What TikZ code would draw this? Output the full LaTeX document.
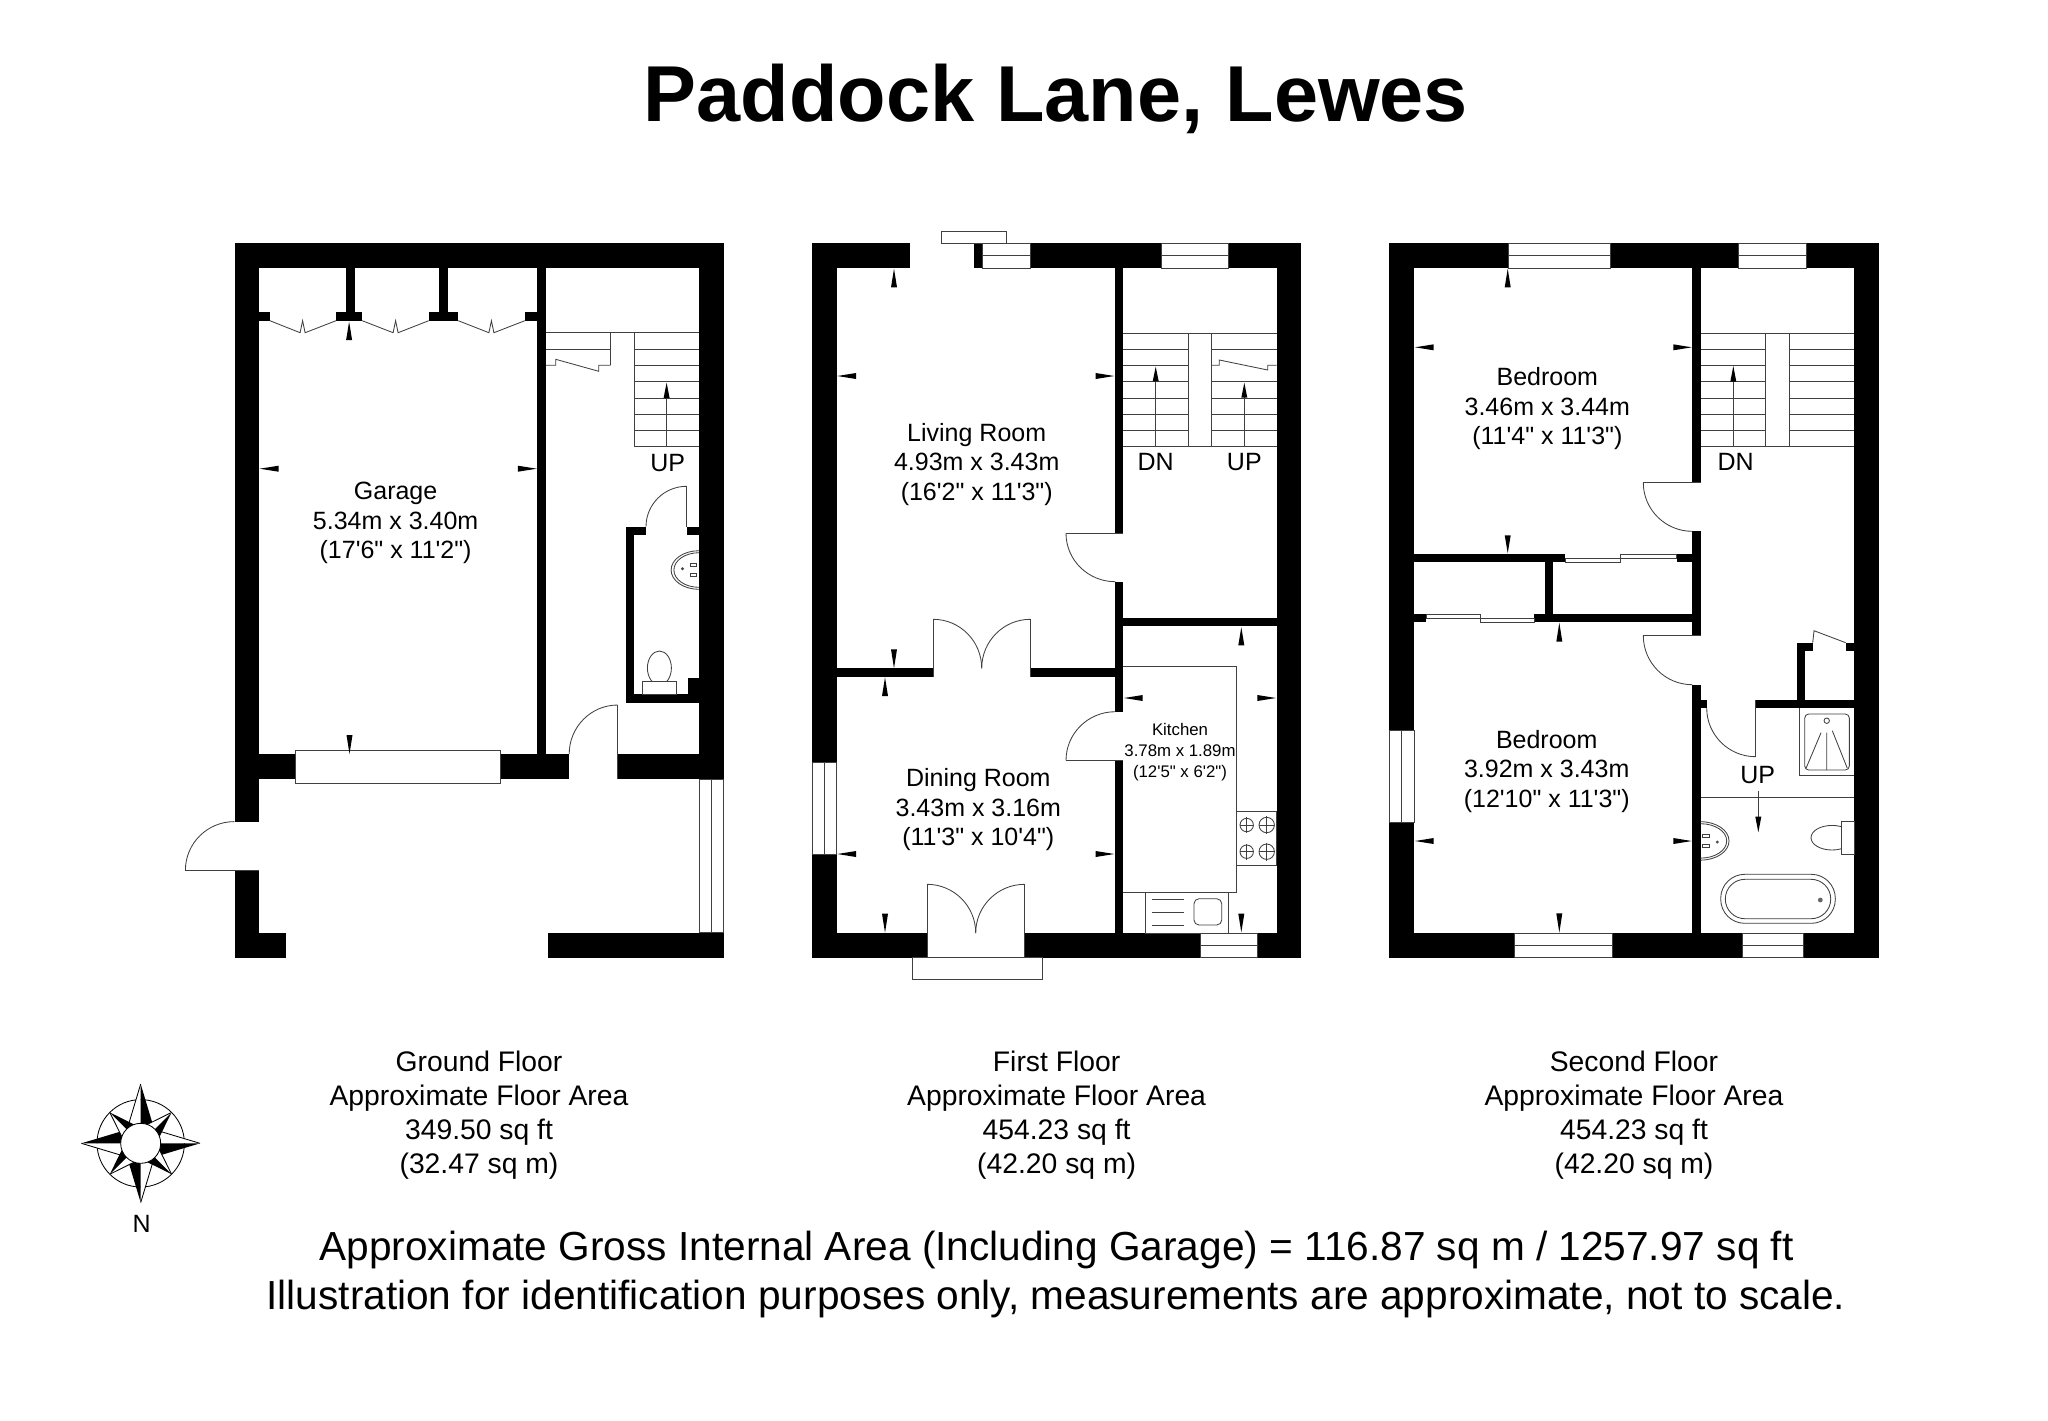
\documentclass[tikz,border=0pt]{standalone}
\usepackage{fontspec}
\newfontfamily\lib{Liberation Sans}
\newcommand{\wl}[4]{\fill[black] (#1,#2) rectangle (#3,#4);}
\newcommand{\win}[4]{\draw[thin line,fill=white] (#1,#2) rectangle (#3,#4);}
\newcommand{\hr}[3]{\draw[thin line] (#2,#1) -- (#3,#1);}
\newcommand{\vr}[3]{\draw[thin line] (#1,#2) -- (#1,#3);}
\newcommand{\vtri}[3]{\fill[black] (#1,#2) -- (#1-3,#3) -- (#1+3,#3) -- cycle;}
\newcommand{\htri}[3]{\fill[black] (#2,#1) -- (#3,#1-3) -- (#3,#1+3) -- cycle;}
\newcommand{\qarc}[4]{\draw[thin line] (#1,{#2+#4}) .. controls ({#1+.5523*#3},{#2+#4}) and ({#1+#3},{#2+.5523*#4}) .. ({#1+#3},#2);}
\newcommand{\zz}[3]{\draw[thin line] (#1,320.7) -- ({#2-2.5},332.7) -- (#2,320.7) -- ({#2+2.5},332.7) -- (#3,320.7);}
\begin{document}
\begin{tikzpicture}[x=0.5pt,y=-0.5pt,
  thin line/.style={line width=.42pt,draw=black!75},
  lbl/.style={font=\fontsize{12.5}{14.7}\selectfont\lib,align=center,inner sep=0pt},
  kit/.style={font=\fontsize{8.4}{10.4}\selectfont\lib,align=center,inner sep=0pt},
  capt/.style={font=\fontsize{14.15}{17}\selectfont\lib,align=center,inner sep=0pt},
  big/.style={font=\fontsize{20.3}{25}\selectfont\lib,inner sep=0pt}]
\useasboundingbox[fill=white] (0,0) rectangle (2048,1420);

% ---------- title
\node[inner sep=0pt,font=\fontsize{39.65}{44}\selectfont\lib\bfseries] (title) at (1056,99) {Paddock Lane, Lewes};

% ---------- ground floor
\wl{234.5}{243.3}{723.8}{268}
\wl{234.5}{243.3}{259.1}{821.7}
\wl{234.5}{870.3}{259.1}{957.7}
\wl{234.5}{932.7}{286.3}{957.7}
\wl{699}{243.3}{723.8}{779}
\wl{537}{268}{546}{754}
\wl{346.4}{268}{354.6}{311.7}
\wl{439.4}{268}{448}{311.7}
\wl{258.9}{311.7}{269.9}{320.7}
\wl{336}{311.7}{362.2}{320.7}
\wl{428.7}{311.7}{458.3}{320.7}
\wl{524.8}{311.7}{537}{320.7}
\zz{269.9}{302.6}{336}
\zz{362.2}{395.6}{428.7}
\zz{458.3}{491.4}{524.8}
\vtri{349.1}{321.7}{340}
\htri{468.7}{259.6}{278.5}
\htri{468.7}{536.8}{517.9}
% garage front wall
\wl{234.5}{754}{569.2}{779}
\wl{617.7}{754}{723.8}{779}
\win{295.7}{750.3}{500.3}{783}
\vtri{349.5}{754}{735}
\wl{548.1}{932.7}{723.8}{957.7}
% side window
\draw[thin line,fill=white] (699.3,779) rectangle (723.4,932.7);
\vr{711.4}{779}{932.7}
% doors
\vr{617.7}{705}{779}
\qarc{617.7}{754}{-48.5}{-49}
\hr{870.3}{185.4}{259.1}
\qarc{234.3}{870.3}{-48.9}{-48.7}
% stairs
\hr{332.7}{546}{699}
\vr{610.5}{332.7}{365.3}
\hr{349}{546}{610.5}
\draw[thin line] (546,365.3) -- (555.7,365.3) -- (555.7,359.3) -- (598.8,371.3) -- (598.8,365.3) -- (610.5,365.3);
\vr{634.3}{332.7}{446.7}
\foreach \yy in {349,365.3,381.7,398,414.3,430.7,446.7} {\hr{\yy}{634.3}{699}}
\vr{666.6}{395}{446.7}
\vtri{666.6}{382.7}{398}
% cloakroom
\wl{626}{526.7}{634.3}{702.7}
\wl{626}{526.7}{646}{535.3}
\wl{686.6}{526.7}{699}{535.3}
\wl{626}{694}{699}{702.7}
\wl{687.6}{678.3}{699}{694}
\vr{686.6}{486.3}{526.7}
\qarc{686.6}{526.7}{-40.6}{-40.4}
\qarc{699}{570}{-27.9}{-19.3}
\qarc{699}{570}{-27.9}{19.3}
\qarc{699}{570}{-25.1}{-17.3}
\qarc{699}{570}{-25.1}{17.3}
\draw[thin line,fill=white] (690,563.3) rectangle (696.9,566.7);
\draw[thin line,fill=white] (690,573.3) rectangle (696.9,576.7);
\draw[thin line] (682.5,568.7) circle (1);
\draw[thin line] (659.4,668) ellipse (12 and 17);
\draw[thin line,fill=white] (642.5,681) rectangle (676.3,694);
\node[lbl] (up1) at (667.7,462.8) {UP};
\node[lbl] (garage) at (395.6,523) {Garage\\5.34m x 3.40m\\(17'6" x 11'2")};

% ---------- first floor
\wl{812}{243.3}{910}{268}
\wl{974}{243.3}{982}{268}
\wl{1030.7}{243.3}{1161}{268}
\wl{1228.3}{243.3}{1301.3}{268}
\wl{812}{243.3}{836.7}{762.3}
\wl{812}{854}{836.7}{957.7}
\wl{1276.7}{243.3}{1301.3}{957.7}
\wl{812}{933}{927}{957.7}
\wl{1024.7}{933}{1200}{957.7}
\wl{1257.3}{933}{1301.3}{957.7}
\wl{1115.3}{268}{1123.3}{533.3}
\wl{1115.3}{581.7}{1123.3}{711.7}
\wl{1115.3}{760.3}{1123.3}{933}
\wl{1123.3}{617.7}{1276.7}{626.3}
\wl{836.7}{668.3}{933.3}{676.7}
\wl{1030.3}{668.3}{1115.3}{676.7}
% windows
\win{982}{243.3}{1030.7}{268}
\hr{255.7}{982}{1030.7}
\win{1161}{243.3}{1228.3}{268}
\hr{255.7}{1161}{1228.3}
\win{941.7}{231.3}{1006.3}{243.3}
\win{812}{762.3}{836.7}{854}
\vr{824.7}{762.3}{854}
\win{1200}{933}{1257.3}{957.7}
\hr{945.3}{1200}{1257.3}
\win{912.3}{957.7}{1042.3}{979.3}
% doors
\hr{533.3}{1066}{1123.3}
\qarc{1115.3}{533.3}{-49.3}{48.4}
\hr{760.3}{1066}{1123.3}
\qarc{1115.3}{760.3}{-49.3}{-48.6}
\vr{933.3}{619.3}{676.7}
\vr{1030.3}{619.3}{676.7}
\qarc{933.3}{668.3}{48.4}{-49}
\qarc{1030.3}{668.3}{-48.6}{-49}
\vr{927}{884.3}{957.7}
\vr{1024.7}{884.3}{957.7}
\qarc{927}{933}{48.7}{-48.7}
\qarc{1024.7}{933}{-49}{-48.7}
% stairs
\hr{333}{1123.3}{1276.7}
\hr{446.7}{1123.3}{1276.7}
\vr{1188.3}{333}{446.7}
\vr{1211.7}{333}{446.7}
\foreach \yy in {349.3,365.3,381.3,398,414,430.3} {\hr{\yy}{1123.3}{1188.3}}
\foreach \yy in {349.3,381.3,398,414,430.3} {\hr{\yy}{1211.7}{1276.7}}
\draw[thin line] (1211.7,365.3) -- (1219.3,365.3) -- (1219.3,360) -- (1267.7,370) -- (1267.7,365.3) -- (1276.7,365.3);
\vr{1155.7}{380}{446.7}
\vtri{1155.7}{366.7}{381.3}
\vr{1244.3}{396}{446.7}
\vtri{1244.3}{382.7}{397.7}
% kitchen units
\draw[thin line] (1123.3,666.3) -- (1236.3,666.3) -- (1236.3,892.3) -- (1123.3,892.3);
\draw[thin line] (1236.3,811) rectangle (1276.7,865.3);
\draw[thin line] (1145.7,892.3) rectangle (1228.3,933);
\foreach \cx/\cy/\rr in {1246.7/825/6.7,1266.7/825/7.7,1246.7/851.7/6.7,1266.7/851.7/7.7} {
  \draw[thin line] (\cx,\cy) circle (\rr);
  \draw[thin line] (\cx-\rr,\cy) -- (\cx+\rr,\cy) (\cx,\cy-\rr-1.5) -- (\cx,\cy+\rr+1.5);
}
\foreach \yy in {899.3,912.3,925.7} {\hr{\yy}{1151.7}{1184}}
\draw[thin line,rounded corners=2.5pt] (1194,898.7) rectangle (1221.7,925);
% dimension arrows
\vtri{894}{268.7}{287.3}
\htri{376}{837.3}{856}
\htri{376}{1114.3}{1095.7}
\vtri{894}{668.3}{649.3}
\vtri{885}{677.3}{696}
\vtri{885}{932.7}{913.7}
\htri{854}{837.3}{856}
\htri{854}{1114.3}{1095.7}
\vtri{1241.3}{627.3}{645.3}
\vtri{1241.3}{932.3}{913.7}
\htri{698}{1124}{1142.7}
\htri{698}{1276}{1257.3}
\node[lbl] (dn1) at (1155.7,462.3) {DN};
\node[lbl] (up2) at (1244.3,462.3) {UP};
\node[lbl] (living) at (976.7,464.3) {Living Room\\4.93m x 3.43m\\(16'2" x 11'3")};
\node[lbl] (dining) at (978.3,809.6) {Dining Room\\3.43m x 3.16m\\(11'3" x 10'4")};
\node[kit] (kitchen) at (1180,752) {Kitchen\\3.78m x 1.89m\\(12'5" x 6'2")};

% ---------- second floor
\wl{1389.3}{243.3}{1508}{268}
\wl{1610.3}{243.3}{1738.3}{268}
\wl{1806}{243.3}{1879.3}{268}
\wl{1389.3}{243.3}{1414.3}{730}
\wl{1389.3}{822}{1414.3}{957.7}
\wl{1854}{243.3}{1879.3}{957.7}
\wl{1389.3}{933}{1514}{957.7}
\wl{1612.7}{933}{1742.7}{957.7}
\wl{1803.7}{933}{1879.3}{957.7}
\wl{1692.3}{268}{1700.7}{482.7}
\wl{1692.3}{531.3}{1700.7}{635.7}
\wl{1692.3}{684.7}{1700.7}{933}
\wl{1414.3}{554}{1565}{562.3}
\wl{1676.7}{554}{1692.3}{562.3}
\wl{1544.7}{562.3}{1553}{614}
\wl{1414.3}{614}{1426.3}{622.3}
\wl{1534.3}{614}{1692.3}{622.3}
\wl{1700.7}{700}{1706.7}{708}
\wl{1755.7}{700}{1854}{708}
\wl{1796.7}{642.7}{1804.7}{700}
\wl{1796.7}{642.7}{1812.7}{650.7}
\wl{1845.7}{642.7}{1854}{650.7}
% windows
\win{1508}{243.3}{1610.3}{268}
\hr{255.7}{1508}{1610.3}
\win{1738.3}{243.3}{1806}{268}
\hr{255.7}{1738.3}{1806}
\win{1389.3}{730}{1414.3}{822}
\vr{1401.7}{730}{822}
\win{1514}{933}{1612.7}{957.7}
\hr{945.3}{1514}{1612.7}
\win{1742.7}{933}{1803.7}{957.7}
\hr{945.3}{1742.7}{1803.7}
% sliders
\win{1565}{558.3}{1620.7}{562.3}
\win{1620.7}{554}{1676.7}{558.3}
\win{1426.3}{614}{1480.3}{618.3}
\win{1480.3}{618.3}{1534.3}{622.3}
% stairs
\hr{333}{1700.7}{1854}
\hr{446.7}{1700.7}{1854}
\vr{1765.7}{333}{446.7}
\vr{1789.3}{333}{446.7}
\foreach \yy in {349,365.3,381.7,398,414.3,430.7} {\hr{\yy}{1700.7}{1765.7}\hr{\yy}{1789.3}{1854}}
\vr{1733.3}{378}{446.7}
\vtri{1733.3}{366}{381.7}
% doors
\hr{482.7}{1643.3}{1700.7}
\qarc{1692.3}{482.7}{-49}{48.6}
\hr{635.7}{1643.3}{1700.7}
\qarc{1692.3}{635.7}{-49}{49}
\vr{1755.7}{700}{756.7}
\qarc{1755.7}{708}{-49}{48.7}
\draw[thin line] (1812.7,642.7) -- (1814,630.7) -- (1845.7,642.7);
% shower
\draw[thin line] (1799.3,708) -- (1799.3,775.7) -- (1854,775.7);
\draw[thin line,rounded corners=2pt] (1804.7,714) rectangle (1849.3,770);
\draw[thin line] (1826.7,720.7) circle (2.7);
\draw[thin line] (1826.7,732.7) -- (1826.7,770) (1821,732.7) -- (1806,768.3) (1832.3,730.7) -- (1847.3,768.3);
% bathroom
\hr{797.7}{1700.7}{1854}
\vr{1758.3}{790.7}{820}
\vtri{1758.3}{832.3}{816.7}
\qarc{1700.7}{840.9}{28.3}{-19.2}
\qarc{1700.7}{840.9}{28.3}{19.2}
\qarc{1700.7}{840.9}{26}{-17.2}
\qarc{1700.7}{840.9}{26}{17.2}
\draw[thin line,fill=white] (1702.7,834.3) rectangle (1709.3,837);
\draw[thin line,fill=white] (1702.7,844.3) rectangle (1709.3,847);
\draw[thin line] (1717.3,842) circle (1);
\draw[thin line] (1832,837.7) ellipse (21 and 12.3);
\draw[thin line,fill=white] (1841.3,821) rectangle (1854,854.3);
\draw[thin line,rounded corners=12pt] (1720.7,874.3) rectangle (1835.3,923.3);
\draw[thin line,rounded corners=9.8pt] (1725.3,879.3) rectangle (1830.7,918.7);
\fill[black!60] (1820.3,900) circle (2.4);
% dimension arrows
\vtri{1507.7}{268.7}{287.3}
\vtri{1507.7}{553.3}{535.3}
\htri{347.3}{1415}{1433.7}
\htri{347.3}{1691.7}{1673.3}
\vtri{1559.3}{622.7}{641.7}
\vtri{1559.3}{932.7}{913.3}
\htri{841}{1415}{1433.7}
\htri{841}{1691.7}{1673.3}
\node[lbl] (dn2) at (1735.7,462.3) {DN};
\node[lbl] (up3) at (1757.7,775) {UP};
\node[lbl] (bed1) at (1547.3,408.6) {Bedroom\\3.46m x 3.44m\\(11'4" x 11'3")};
\node[lbl] (bed2) at (1546.7,771.3) {Bedroom\\3.92m x 3.43m\\(12'10" x 11'3")};

% ---------- captions
\node[capt] (c1) at (479,1115.2) {Ground Floor\\Approximate Floor Area\\349.50 sq ft\\(32.47 sq m)};
\node[capt] (c2) at (1056.6,1115.2) {First Floor\\Approximate Floor Area\\454.23 sq ft\\(42.20 sq m)};
\node[capt] (c3) at (1634,1115.2) {Second Floor\\Approximate Floor Area\\454.23 sq ft\\(42.20 sq m)};
\node[big] (t1) at (1056.6,1250) {Approximate Gross Internal Area (Including Garage) = 116.87 sq m / 1257.97 sq ft};
\node[big] (t2) at (1056,1299) {Illustration for identification purposes only, measurements are approximate, not to scale.};

% ---------- compass
\begin{scope}[shift={(140.7,1143.3)}]
\draw[thin line,draw=black] (0,0) circle (43.7);
\foreach \a in {0,90,180,270} {
  \begin{scope}[rotate=\a]
    \fill[white] (0,-59.3) -- (-12.3,-18.3) -- (0,-14) -- cycle;
    \draw[thin line,draw=black] (0,-59.3) -- (-12.3,-18.3);
    \fill[black] (0,-59.3) -- (12.3,-18.3) -- (0,-14) -- cycle;
  \end{scope}
}
\foreach \a in {45,135,225,315} {
  \begin{scope}[rotate=\a]
    \fill[white] (0,-43.7) -- (-9,-17) -- (0,-14) -- cycle;
    \draw[thin line,draw=black] (0,-43.7) -- (-9,-17);
    \fill[black] (0,-43.7) -- (9,-17) -- (0,-14) -- cycle;
  \end{scope}
}
\draw[thin line,draw=black,fill=white] (0,0) circle (20);
\end{scope}
\node[lbl] (north) at (141.7,1224) {N};
\end{tikzpicture}
\end{document}
